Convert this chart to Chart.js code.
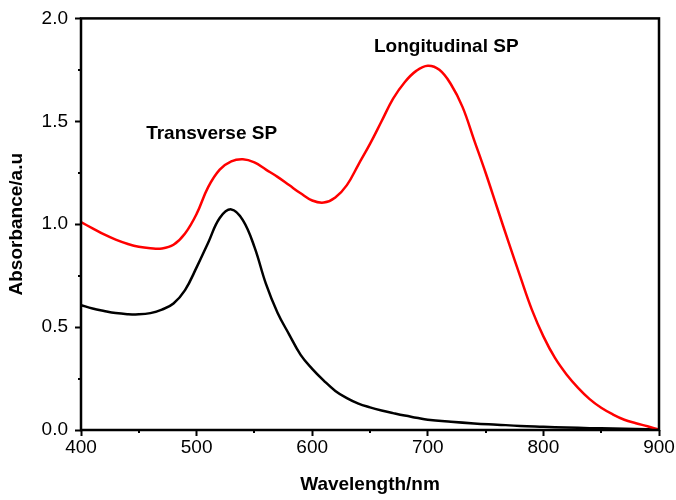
<!DOCTYPE html>
<html>
<head>
<meta charset="utf-8">
<script src="https://cdn.jsdelivr.net/npm/chart.js@4"></script>
<style>
  body { margin: 0; background: #fff; }
</style>
</head>
<body>
<canvas id="myChart" width="676" height="500"></canvas>
<script>
// red curve (gold nanorods)
const redWavelengths = [400, 410, 420, 430, 440, 450, 460, 470, 480, 490,
    500, 510, 520, 530, 540, 550, 560, 570, 580, 590,
    600, 610, 620, 630, 640, 650, 660, 670, 680, 690,
    700, 710, 720, 730, 740, 750, 760, 770, 780, 790,
    800, 810, 820, 830, 840, 850, 860, 870, 880, 890, 900];
const redAbsorbance = [1.01, 0.98, 0.95, 0.925, 0.905, 0.89, 0.883, 0.882, 0.90, 0.955,
    1.05, 1.18, 1.265, 1.305, 1.315, 1.30, 1.265, 1.23, 1.19, 1.15,
    1.115, 1.105, 1.13, 1.19, 1.29, 1.39, 1.50, 1.61, 1.69, 1.745,
    1.77, 1.75, 1.68, 1.57, 1.41, 1.25, 1.08, 0.91, 0.745, 0.585,
    0.455, 0.35, 0.27, 0.205, 0.15, 0.108, 0.076, 0.05, 0.033, 0.018, 0.002];

// black curve (spheres)
const blackWavelengths = [400, 410, 420, 430, 440, 450, 460, 470, 480, 490,
    500, 510, 520, 530, 540, 550, 560, 570, 580, 590,
    600, 610, 620, 630, 640, 650, 660, 670, 680, 690,
    700, 720, 740, 760, 780, 800, 820, 840, 860, 880, 900];
const blackAbsorbance = [0.607, 0.59, 0.578, 0.568, 0.563, 0.562, 0.568, 0.585, 0.615, 0.68,
    0.79, 0.91, 1.03, 1.072, 1.02, 0.89, 0.71, 0.57, 0.465, 0.365,
    0.297, 0.24, 0.19, 0.155, 0.128, 0.11, 0.095, 0.082, 0.07, 0.06,
    0.05, 0.04, 0.032, 0.026, 0.02, 0.016, 0.012, 0.009, 0.007, 0.005, 0.003];

const xMinorTicks = [450, 550, 650, 750, 850];
const yMinorTicks = [0.25, 0.75, 1.25, 1.75];

const annotations = [
    { text: 'Transverse SP', x: 513, y: 1.44 },
    { text: 'Longitudinal SP', x: 716, y: 1.86 }
];

const fontFamily = '"Liberation Sans", Arial, sans-serif';
Chart.defaults.font.family = fontFamily;
Chart.defaults.color = '#000';

function toPoints(xs, ys) {
    return xs.map((x, i) => ({ x: x, y: ys[i] }));
}

const framePlugin = {
    id: 'frame',
    afterDraw(chart) {
        const ctx = chart.ctx;
        const area = chart.chartArea;
        const xs = chart.scales.x;
        const ys = chart.scales.y;
        ctx.save();
        ctx.strokeStyle = '#000';
        ctx.lineWidth = 2;
        ctx.beginPath();
        xMinorTicks.forEach(v => {
            const px = Math.round(xs.getPixelForValue(v));
            ctx.moveTo(px, area.bottom);
            ctx.lineTo(px, area.bottom + 3);
        });
        yMinorTicks.forEach(v => {
            const py = Math.round(ys.getPixelForValue(v));
            ctx.moveTo(area.left, py);
            ctx.lineTo(area.left - 3, py);
        });
        ctx.stroke();

        ctx.lineWidth = 2.5;
        ctx.strokeRect(area.left, area.top, area.right - area.left, area.bottom - area.top);

        ctx.fillStyle = '#000';
        ctx.font = 'bold 19px ' + fontFamily;
        ctx.textAlign = 'center';
        ctx.textBaseline = 'middle';
        annotations.forEach(a => {
            ctx.fillText(a.text, xs.getPixelForValue(a.x), ys.getPixelForValue(a.y));
        });
        ctx.restore();
    }
};

const ctx = document.getElementById('myChart').getContext('2d');
const myChart = new Chart(ctx, {
    type: 'line',
    data: {
        datasets: [{
            label: 'red',
            data: toPoints(redWavelengths, redAbsorbance),
            borderColor: '#ff0000',
            borderWidth: 2.5,
            pointRadius: 0,
            tension: 0.4
        }, {
            label: 'black',
            data: toPoints(blackWavelengths, blackAbsorbance),
            borderColor: '#000000',
            borderWidth: 2.5,
            pointRadius: 0,
            tension: 0.4
        }]
    },
    options: {
        responsive: false,
        animation: false,
        layout: { padding: { top: 18, right: 17, left: 0, bottom: 0 } },
        plugins: {
            legend: { display: false },
            tooltip: { enabled: false }
        },
        scales: {
            x: {
                type: 'linear',
                min: 400,
                max: 900,
                afterFit: scale => { scale.height = 70; },
                ticks: { stepSize: 100, padding: 0, font: { size: 19 }, maxRotation: 0 },
                grid: { drawOnChartArea: false, tickLength: 6, tickWidth: 2, tickColor: '#000' },
                border: { display: false },
                title: { display: true, text: 'Wavelength/nm', font: { size: 19, weight: 'bold' }, padding: { top: 0, bottom: 4 } }
            },
            y: {
                min: 0,
                max: 2,
                afterFit: scale => { scale.width = 81; },
                ticks: { stepSize: 0.5, padding: 7, font: { size: 19 }, callback: v => v.toFixed(1) },
                grid: { drawOnChartArea: false, tickLength: 6, tickWidth: 2, tickColor: '#000' },
                border: { display: false },
                title: { display: true, text: 'Absorbance/a.u', font: { size: 19, weight: 'bold' }, padding: { top: 5, bottom: 0 } }
            }
        }
    },
    plugins: [framePlugin]
});
</script>
</body>
</html>
